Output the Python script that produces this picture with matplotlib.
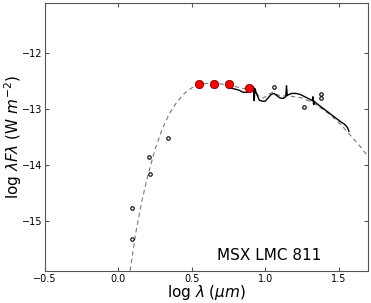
import matplotlib
matplotlib.use("Agg")
import matplotlib.pyplot as plt

# model SED (dashed)
model_x = [0.08, 0.12, 0.16, 0.20, 0.25, 0.30, 0.35, 0.40, 0.45, 0.50, 0.55, 0.60, 0.65,
           0.70, 0.75, 0.80, 0.85, 0.90, 0.93, 0.96, 0.99, 1.02, 1.05, 1.08, 1.11, 1.15,
           1.20, 1.25, 1.30, 1.35, 1.40, 1.45, 1.50, 1.55, 1.60, 1.65, 1.70]
model_y = [-15.9, -15.2, -14.65, -14.2, -13.72, -13.35, -13.07, -12.87, -12.72, -12.62, -12.56,
           -12.54, -12.54, -12.55, -12.57, -12.60, -12.63, -12.65, -12.68, -12.78, -12.80,
           -12.74, -12.70, -12.74, -12.77, -12.76, -12.78, -12.80, -12.86, -12.93, -13.02,
           -13.12, -13.24, -13.38, -13.53, -13.68, -13.85]

# observed spectrum (solid)
spec_x = [0.76, 0.79, 0.82, 0.85, 0.88, 0.89, 0.90, 0.91, 0.915, 0.92, 0.925, 0.93, 0.94,
          0.96, 0.98, 1.00, 1.02, 1.04, 1.06, 1.08, 1.10, 1.12, 1.14, 1.145, 1.15, 1.16,
          1.18, 1.21, 1.24, 1.27, 1.30, 1.32, 1.325, 1.33, 1.335, 1.34, 1.37, 1.40, 1.43,
          1.46, 1.49, 1.52, 1.54, 1.56, 1.57]
spec_y = [-12.62, -12.64, -12.66, -12.70, -12.70, -12.66, -12.62, -12.61, -12.63, -12.60,
          -12.85, -12.63, -12.72, -12.84, -12.86, -12.86, -12.80, -12.74, -12.72, -12.76,
          -12.80, -12.81, -12.78, -12.58, -12.76, -12.74, -12.72, -12.72, -12.74, -12.78,
          -12.82, -12.85, -12.78, -12.92, -12.86, -12.88, -12.94, -13.00, -13.06, -13.12,
          -13.18, -13.24, -13.27, -13.33, -13.40]

# photometry (small open circles)
phot_x = [0.09, 0.096, 0.21, 0.213, 0.337, 1.063, 1.263, 1.377, 1.377]
phot_y = [-15.33, -14.77, -13.86, -14.17, -13.52, -12.60, -12.96, -12.73, -12.80]

# highlighted photometry (red)
red_x = [0.55, 0.65, 0.754, 0.893]
red_y = [-12.55, -12.55, -12.55, -12.625]

fig = plt.figure(figsize=(3.71, 3.03), dpi=100)
ax = fig.add_axes([0.121, 0.106, 0.871, 0.884])

ax.plot(model_x, model_y, ls=(0, (4, 3)), color="#777777", lw=0.8)
ax.plot(spec_x, spec_y, color="black", lw=1.0)
ax.plot(phot_x, phot_y, "o", ms=2.5, mfc="white", mec="black", mew=0.8)
ax.plot(red_x, red_y, "o", ms=6, mfc="red", mec="#880000", mew=0.6)

ax.set_xlim(-0.5, 1.7)
ax.set_ylim(-15.9, -11.1)
ax.set_xticks([-0.5, 0.0, 0.5, 1.0, 1.5])
ax.set_yticks([-15, -14, -13, -12])
ax.tick_params(direction="in", labelsize=7, length=3, color="#555555", pad=2,
               top=True, right=True)
for s in ax.spines.values():
    s.set_color("#555555")

ax.set_xlabel(r"log $\lambda$ ($\mu m$)", fontsize=11)
ax.set_ylabel(r"log $\lambda F\lambda$ (W $m^{-2}$)", fontsize=11)
ax.xaxis.set_label_coords(0.5, -0.045)
ax.yaxis.set_label_coords(-0.066, 0.5)
ax.text(0.675, -15.62, "MSX LMC 811", fontsize=11, va="center", ha="left")

fig.savefig("out.png", dpi=100)
